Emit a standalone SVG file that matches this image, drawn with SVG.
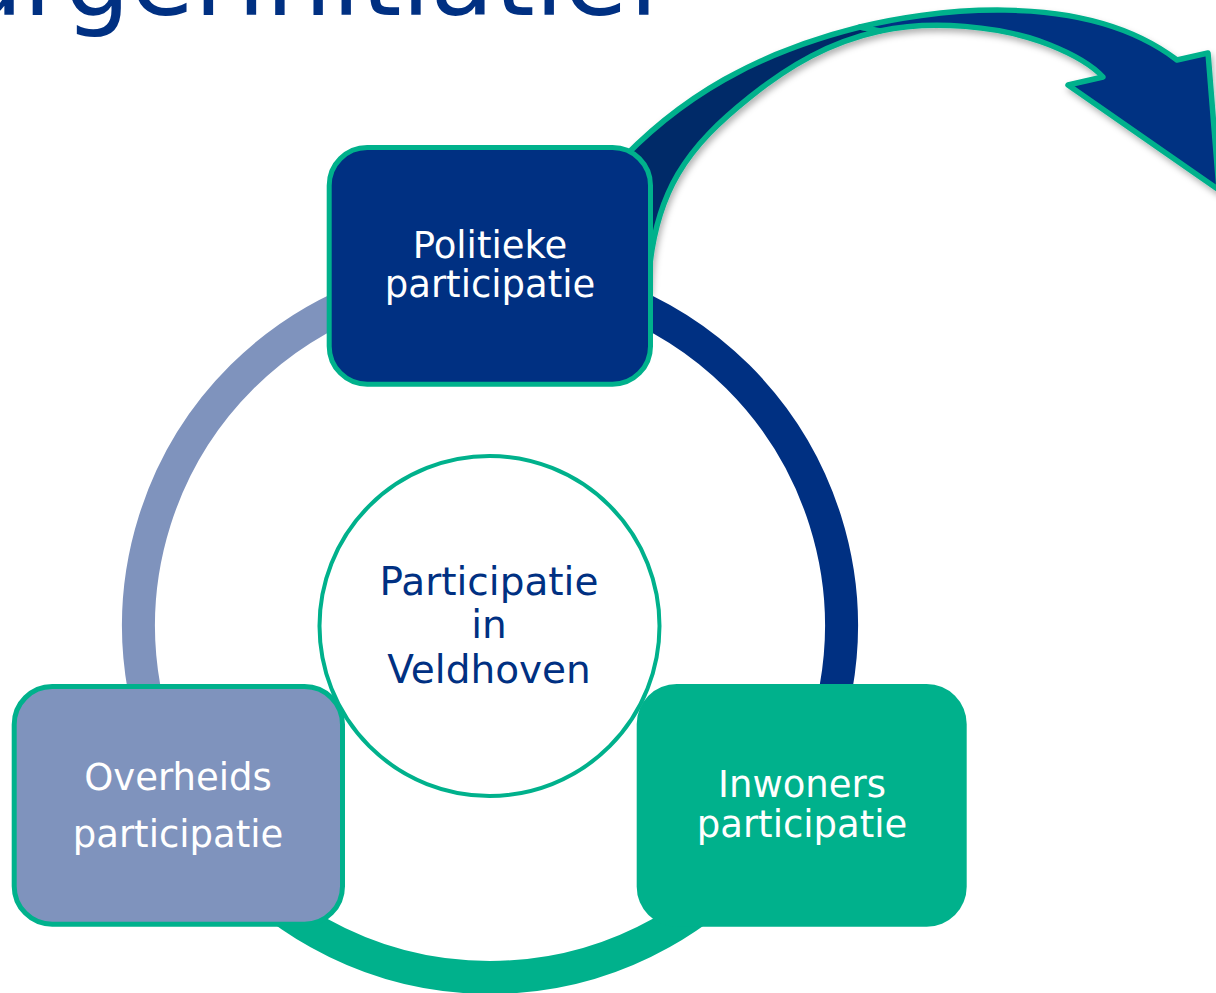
<svg xmlns="http://www.w3.org/2000/svg" width="1216" height="993" viewBox="0 0 1216 993">
  <style>
    .lbl { font-family: "DejaVu Sans", Verdana, sans-serif; text-anchor: middle; }
    .white { fill: #ffffff; font-size: 37px; }
    .navytxt { fill: #003082; font-size: 39px; }
    .ring { fill: none; stroke-width: 33; stroke-linecap: butt; }
    .arrow { stroke: #00B18C; stroke-width: 5.5; stroke-linejoin: round; }
    .box { stroke: #00B18C; stroke-width: 5; }
  </style>
  <defs>
    <filter id="shadow" x="-10%" y="-10%" width="130%" height="140%">
      <feDropShadow dx="2" dy="4" stdDeviation="3" flood-color="#000000" flood-opacity="0.3"/>
    </filter>
  </defs>
  <rect x="0" y="0" width="1216" height="993" fill="#ffffff"/>

  <g id="title">
    <text x="-114" y="15" font-family="DejaVu Sans, Verdana, sans-serif" font-size="104" fill="#003082">Burgerinitiatief</text>
  </g>

  <g id="connectors">
    <g id="big-arrow" filter="url(#shadow)">
      <path class="arrow" fill="#062A68" d="M 612,170 C 680,95 760,52 860,27 L 880,31 C 830,42 790,65 750,97 C 690,145 652,190 648,290 Z"/>
      <path class="arrow" fill="#003082" d="M 860,27 C 920,12 1080,-14 1177,60 L 1208,53 L 1219,190 L 1068,85 L 1103,77 C 1090,63 1070,53 1050,45 C 1000,25 930,20 880,31 Z"/>
    </g>
    <path class="ring" stroke="#003082" d="M 610.2,295.7 A 351.5 351.5 0 0 1 777.9,827.6"/>
    <path class="ring" stroke="#00B18C" d="M 777.9,827.6 A 351.5 351.5 0 0 1 202.1,827.6"/>
    <path class="ring" stroke="#7F93BD" d="M 202.1,827.6 A 351.5 351.5 0 0 1 369.8,295.7"/>
  </g>

  <g id="center">
    <circle cx="489.5" cy="626" r="170" fill="#ffffff" stroke="#00B18C" stroke-width="4"/>
    <text class="lbl navytxt" x="489" y="595">Participatie</text>
    <text class="lbl navytxt" x="489" y="638">in</text>
    <text class="lbl navytxt" x="489" y="683">Veldhoven</text>
  </g>

  <g id="politieke">
    <rect class="box" x="329.2" y="147.5" width="321.3" height="236.7" rx="38" ry="38" fill="#003082"/>
    <text class="lbl white" x="490" y="258">Politieke</text>
    <text class="lbl white" x="490" y="297">participatie</text>
  </g>

  <g id="overheids">
    <rect class="box" x="14.2" y="686.5" width="328.3" height="237.7" rx="38" ry="38" fill="#7F93BD"/>
    <text class="lbl white" x="178" y="790">Overheids</text>
    <text class="lbl white" x="178" y="847">participatie</text>
  </g>

  <g id="inwoners">
    <rect x="636.7" y="684" width="330" height="242.7" rx="40" ry="40" fill="#00B18C"/>
    <text class="lbl white" x="802" y="797">Inwoners</text>
    <text class="lbl white" x="802" y="837">participatie</text>
  </g>
</svg>
